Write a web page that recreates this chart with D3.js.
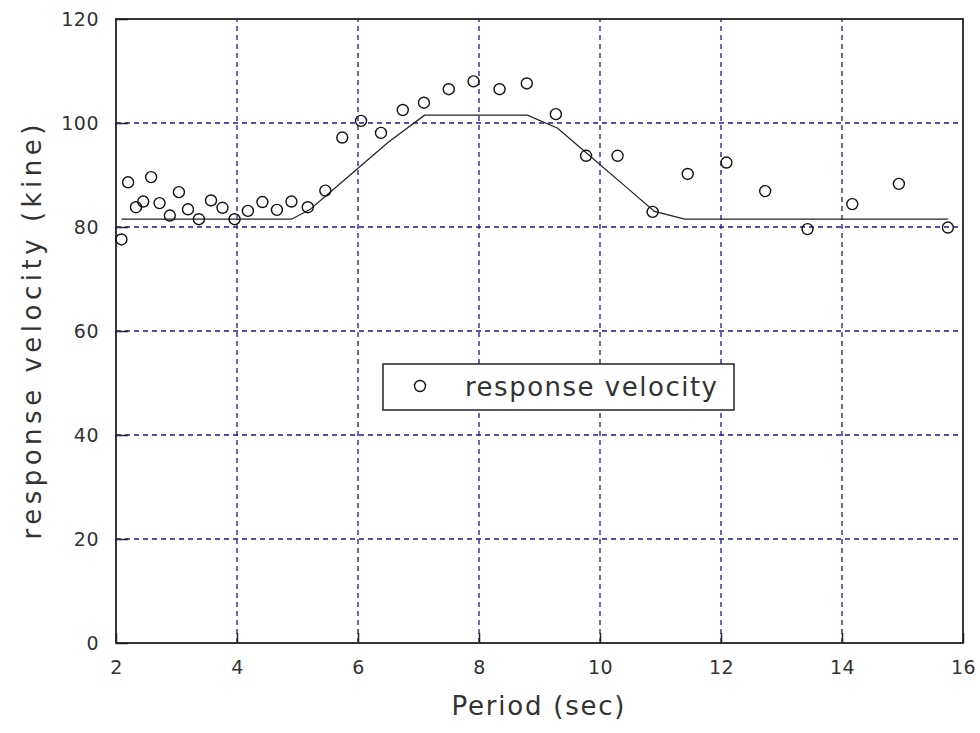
<!DOCTYPE html>
<html>
<head>
<meta charset="utf-8">
<script src="https://d3js.org/d3.v7.min.js"></script>
<style>
  body { margin: 0; background: #fff; }
  svg { display: block; }
  .tick text { font-family: "DejaVu Sans", sans-serif; font-size: 19px; fill: #333; letter-spacing: 0.5px; }
  .title { font-family: "DejaVu Sans", sans-serif; font-size: 26px; fill: #333; }
</style>
</head>
<body>
<svg width="980" height="733"></svg>
<script>
// measured points (period sec, velocity kine)
const periods = [2.09, 2.20, 2.33, 2.45, 2.58, 2.72, 2.89, 3.04, 3.19, 3.37, 3.57, 3.76, 3.96,
  4.18, 4.42, 4.66, 4.90, 5.17, 5.46, 5.74, 6.05, 6.38, 6.74, 7.09, 7.50, 7.91, 8.34, 8.79,
  9.27, 9.77, 10.29, 10.87, 11.45, 12.09, 12.73, 13.43, 14.17, 14.94, 15.75];
const velocities = [77.6, 88.6, 83.8, 84.9, 89.6, 84.6, 82.2, 86.7, 83.4, 81.5, 85.1, 83.7, 81.5,
  83.1, 84.8, 83.3, 84.9, 83.8, 87.0, 97.2, 100.4, 98.1, 102.5, 103.9, 106.5, 108.0, 106.5, 107.6,
  101.7, 93.7, 93.7, 82.9, 90.2, 92.4, 86.9, 79.6, 84.4, 88.3, 79.9];

// design curve
const curveX = [2.09, 4.9, 5.2, 5.5, 6.0, 6.5, 7.1, 8.8, 9.3, 9.8, 10.4, 10.9, 11.4, 15.75];
const curveY = [81.5, 81.5, 83.3, 86.3, 91.3, 96.3, 101.5, 101.5, 99.0, 94.0, 88.0, 83.0, 81.5, 81.5];

const xTicks = [2, 4, 6, 8, 10, 12, 14, 16];
const yTicks = [0, 20, 40, 60, 80, 100, 120];

const svg = d3.select("svg");
const x = d3.scaleLinear().domain([2, 16]).range([116, 963]);
const y = d3.scaleLinear().domain([0, 120]).range([643, 19]);

// grid
const grid = svg.append("g")
  .attr("stroke", "#1c1c8a")
  .attr("stroke-width", 1.3)
  .attr("stroke-dasharray", "5,4");
grid.selectAll("line.v").data(xTicks.slice(1, -1)).enter().append("line")
  .attr("x1", d => x(d)).attr("x2", d => x(d))
  .attr("y1", y(0)).attr("y2", y(120));
grid.selectAll("line.h").data(yTicks.slice(1, -1)).enter().append("line")
  .attr("x1", x(2)).attr("x2", x(16))
  .attr("y1", d => y(d)).attr("y2", d => y(d));

// axes with inward ticks
const xAxis = svg.append("g")
  .attr("transform", `translate(0,${y(0)})`)
  .call(d3.axisBottom(x).tickValues(xTicks).tickSizeInner(-10).tickSizeOuter(0).tickPadding(20));
const yAxis = svg.append("g")
  .attr("transform", `translate(${x(2)},0)`)
  .call(d3.axisLeft(y).tickValues(yTicks).tickSizeInner(-12).tickSizeOuter(0).tickPadding(17));
[xAxis, yAxis].forEach(a => {
  a.select(".domain").remove();
  a.selectAll(".tick line").attr("stroke", "#222").attr("stroke-width", 1.5);
});
yAxis.selectAll(".tick text").attr("dy", "0.35em");
xAxis.selectAll(".tick text").attr("dy", "0.6em");

// frame
svg.append("rect")
  .attr("x", x(2)).attr("y", y(120))
  .attr("width", x(16) - x(2)).attr("height", y(0) - y(120))
  .attr("fill", "none").attr("stroke", "#222").attr("stroke-width", 1.8);

// curve
const line = d3.line().x((d, i) => x(curveX[i])).y(d => y(d));
svg.append("path")
  .datum(curveY)
  .attr("d", line)
  .attr("fill", "none")
  .attr("stroke", "#222")
  .attr("stroke-width", 1.2);

// points
svg.append("g").selectAll("circle")
  .data(periods).enter().append("circle")
  .attr("cx", d => x(d))
  .attr("cy", (d, i) => y(velocities[i]))
  .attr("r", 5.5)
  .attr("fill", "none")
  .attr("stroke", "#111")
  .attr("stroke-width", 1.4);

// legend
const lg = svg.append("g");
lg.append("rect")
  .attr("x", 383).attr("y", 364).attr("width", 351).attr("height", 46)
  .attr("fill", "#fff").attr("stroke", "#222").attr("stroke-width", 1.5);
lg.append("circle")
  .attr("cx", 420).attr("cy", 386).attr("r", 5.5)
  .attr("fill", "none").attr("stroke", "#111").attr("stroke-width", 1.4);
lg.append("text")
  .attr("class", "title")
  .attr("x", 465).attr("y", 396)
  .attr("textLength", 252).attr("lengthAdjust", "spacing")
  .text("response velocity");

// axis titles
svg.append("text")
  .attr("class", "title")
  .attr("x", 538).attr("y", 715)
  .attr("text-anchor", "middle")
  .attr("textLength", 173).attr("lengthAdjust", "spacing")
  .text("Period (sec)");
svg.append("text")
  .attr("class", "title")
  .attr("transform", "translate(41,332) rotate(-90)")
  .attr("text-anchor", "middle")
  .attr("textLength", 415).attr("lengthAdjust", "spacing")
  .text("response velocity (kine)");
</script>
</body>
</html>
